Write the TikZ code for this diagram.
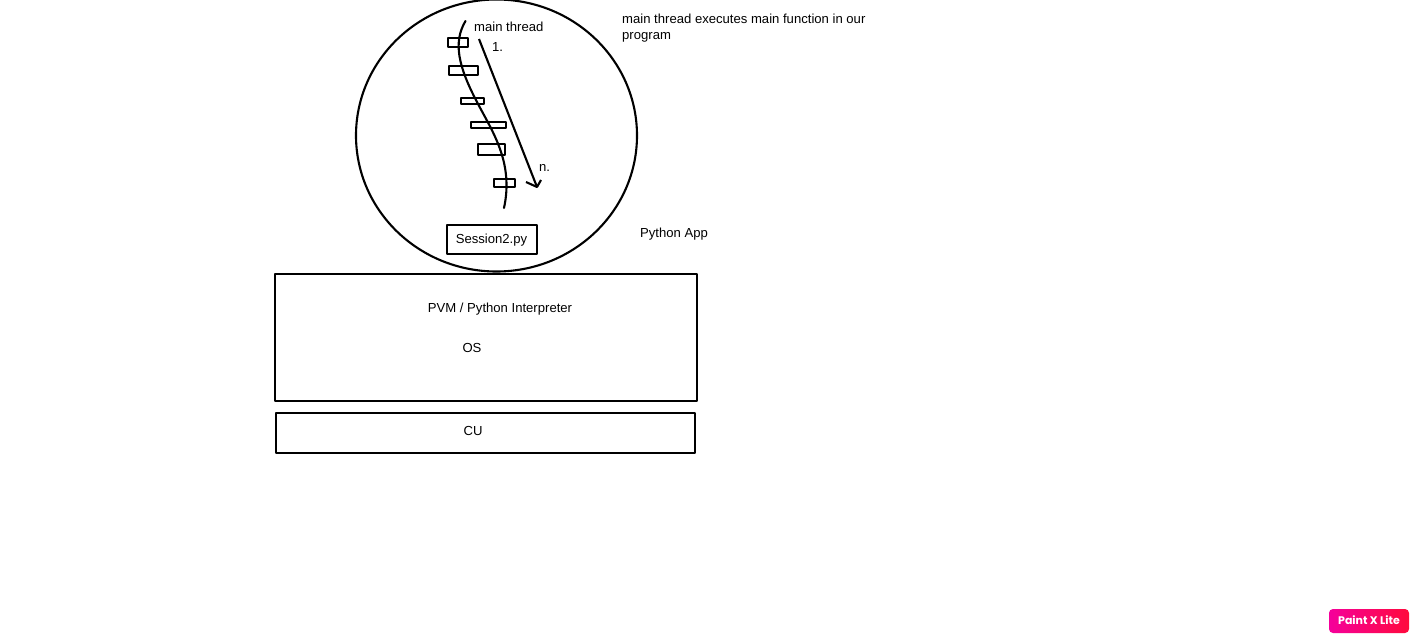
\documentclass[tikz,border=0pt]{standalone}
\usepackage{fontspec}
\setmainfont{Liberation Sans}
\newfontfamily\badgefont{Poppins}
\usetikzlibrary{shapes.geometric,shadings,arrows.meta}
\definecolor{badgeL}{HTML}{F5009B}
\definecolor{badgeR}{HTML}{FF0A3C}
\tikzset{
  px/.style={x=1pt,y=-1pt},
  lw/.style={line width=2.1pt,draw=black},
  box/.style={lw,rectangle,inner sep=0pt,outer sep=0pt,line join=round},
  txt/.style={font=\fontsize{13.1}{15}\selectfont,inner sep=0pt,text=black,anchor=base west},
  txc/.style={txt,anchor=base},
}
\newcommand{\boxnode}[5]{\node[box,minimum width=#4pt-#2pt,minimum height=#5pt-#3pt] (#1) at ({(#2+#4)/2},{(#3+#5)/2}) {};}
\begin{document}
\begin{tikzpicture}[px]
\useasboundingbox (0,0) rectangle (1419,642);
\fill[white] (0,0) rectangle (1419,642);
% App circle
\node[ellipse,lw,minimum width=281pt,minimum height=272pt,inner sep=0pt,outer sep=0pt] (app) at (496.5,135.5) {};
% Thread rectangles
\boxnode{r1}{448}{38}{468}{47}
\boxnode{r2}{449}{66}{478}{75}
\boxnode{r3}{461}{98}{484}{104}
\boxnode{r4}{471}{122}{506}{128}
\boxnode{r5}{478}{144}{505}{155}
\boxnode{r6}{494}{179}{515}{187}
\boxnode{sess}{447}{225}{537}{254}
\boxnode{pvm}{275}{274}{697}{401}
\boxnode{cu}{276}{413}{695}{453}
% Thread curve
\coordinate (t0) at (465.5,21);
\coordinate (t1) at (477,102);
\coordinate (t2) at (504,208);
\draw[lw,line cap=round] (t0) .. controls (453,42) and (458,66) .. (t1)
  .. controls (492,131) and (514,162) .. (t2);
% Order arrow
\coordinate (a0) at (479,39);
\coordinate (a1) at (537,187);
\coordinate (b1) at (526,182);
\coordinate (b2) at (541,180);
\draw[lw] (a0) -- (a1);
\draw[lw,line join=round] (b1) -- (a1) -- (b2);
% Labels
\node[txt] (l1) at (474,31.5) {main thread};
\node[txt] (l2) at (492,51.5) {1.};
\node[txt] (l3) at (539,171) {n.};
\node[txc] (l4) at (491.5,243) {Session2.py};
\node[txt] (l5) at (640,237) {Python App};
\node[txc] (l6) at (500,312) {PVM / Python Interpreter};
\node[txc] (l7) at (472,352) {OS};
\node[txc] (l8) at (473,435) {CU};
\node[txt] (l9) at (622,23.5) {main thread executes main function in our};
\node[txt] (l10) at (622,39.5) {program};
% Badge
\shade[left color=badgeL,right color=badgeR,rounded corners=4pt] (1329,609) rectangle (1409,633);
\node[font=\badgefont\bfseries\fontsize{11}{13}\selectfont,text=white,inner sep=0pt] (badge) at (1369,620.5) {Paint X Lite};
\end{tikzpicture}
\end{document}
